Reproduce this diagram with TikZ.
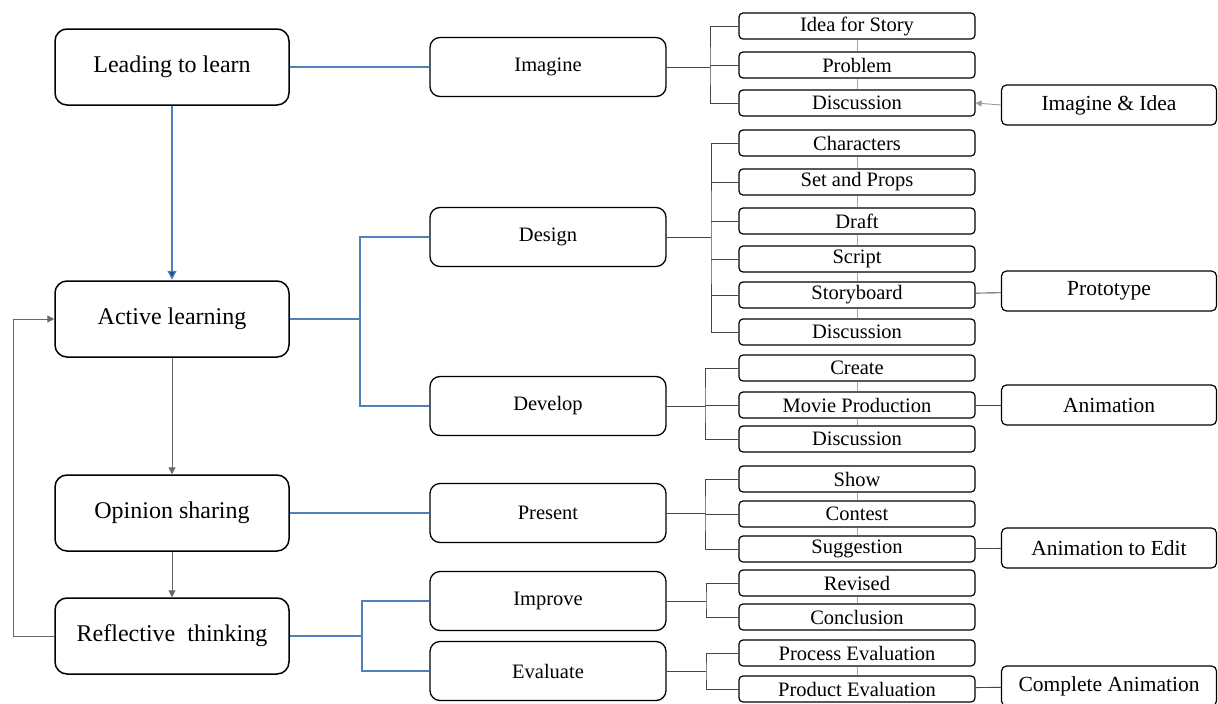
\documentclass[tikz,border=0pt]{standalone}
\usepackage{fontspec}
\setmainfont{Liberation Serif}
\usepackage{tikz}
\usetikzlibrary{arrows.meta, positioning}

\definecolor{linkblue}{RGB}{79,129,189}
\definecolor{tipblue}{RGB}{31,73,125}
\definecolor{flowgrey}{RGB}{105,105,105}
\definecolor{treegrey}{RGB}{70,70,70}

\tikzset{
  mainbox/.style={draw, rounded corners=12pt, line width=1.5pt, minimum width=234pt, minimum height=76pt, inner sep=0pt, font=\fontsize{24}{27}\selectfont},
  stagebox/.style={draw, rounded corners=10pt, line width=1.3pt, minimum width=236pt, minimum height=59pt, inner sep=0pt, font=\fontsize{20.5}{24}\selectfont},
  taskbox/.style={draw, rounded corners=4pt, line width=1.2pt, minimum width=236pt, minimum height=26pt, inner sep=0pt, font=\fontsize{20.5}{22}\selectfont},
  outbox/.style={draw, rounded corners=5pt, line width=1.2pt, minimum width=215pt, minimum height=40pt, inner sep=0pt, font=\fontsize{21.5}{24}\selectfont},
  blueline/.style={draw=linkblue, line width=1.3pt},
  treeline/.style={draw=treegrey, line width=0.9pt},
  faintline/.style={draw=black!35, line width=0.7pt}
}

\begin{document}
\begin{tikzpicture}[x=1pt, y=-1pt]
  \useasboundingbox (0,0) rectangle (1218,704);

  % phases
  \node[mainbox] (lead)    at (172,67)  {Leading to learn};
  \node[mainbox] (active)  at (172,319) {Active learning};
  \node[mainbox] (opinion) at (172,513) {Opinion sharing};
  \node[mainbox] (reflect) at (172,636) {Reflective\ \ thinking};

  % stages
  \node[stagebox] (imag)  at (548,67)  {Imagine};
  \node[stagebox] (design) at (548,237) {Design};
  \node[stagebox] (devel) at (548,406) {Develop};
  \node[stagebox] (pres)  at (548,513) {Present};
  \node[stagebox] (impr)  at (548,601) {Improve};
  \node[stagebox] (evalu) at (548,671) {Evaluate};

  % tasks
  \foreach \nm/\yy/\txt in {idea/26/Idea for Story, prob/65/Problem, disc1/103/Discussion,
      char/143/Characters, setp/182/Set and Props, draft/221/Draft, script/259/Script,
      story/295/Storyboard, disc2/332/Discussion,
      create/368/Create, movie/405/Movie Production, disc3/439/Discussion,
      show/479/Show, contest/514/Contest, sugg/549/Suggestion,
      revis/583/Revised, concl/617/Conclusion,
      proc/653/Process Evaluation, prod/689/Product Evaluation}
    \node[taskbox] (\nm) at (857,\yy) {\txt};

  % outputs
  \node[outbox] (oidea)  at (1109,105) {Imagine \& Idea};
  \node[outbox] (oproto) at (1109,291) {Prototype};
  \node[outbox] (oanim)  at (1109,405) {Animation};
  \node[outbox] (oedit)  at (1109,548) {Animation to Edit};
  \node[outbox] (ofull)  at (1109,686) {Complete Animation};

  % phase flow
  \draw[draw=linkblue, line width=1.3pt, -{Triangle[length=9pt, width=9pt, fill=tipblue]}, shorten >=0.5pt] (lead) -- (active);
  \draw[flowgrey, line width=1pt, -{Triangle[length=7pt, width=7pt]}] (active) -- (opinion);
  \draw[flowgrey, line width=1pt, -{Triangle[length=7pt, width=7pt]}] (opinion) -- (reflect);
  \draw[flowgrey, line width=1pt, -{Triangle[length=7pt, width=7pt]}] (reflect.west) -- ++(-41,0) |- (active.west);

  % phase to stage
  \coordinate (jA) at (360,319);
  \coordinate (jR) at (362,636);
  \draw[blueline] (lead) -- (imag);
  \draw[blueline] (active) -- (jA);
  \draw[blueline] (design.west) -| (jA) |- (devel.west);
  \draw[blueline] (opinion) -- (pres);
  \draw[blueline] (reflect) -- (jR);
  \draw[blueline] (impr.west) -| (jR) |- (evalu.west);

  % stage to tasks
  \coordinate (bI) at (710,67);
  \coordinate (bD) at (711,237);
  \coordinate (bV) at (705,406);
  \coordinate (bP) at (705,513);
  \coordinate (bM) at (706,601);
  \coordinate (bE) at (706,671);
  \draw[treeline] (imag) -- (bI);
  \draw[treeline] (idea.west) -| (bI) |- (disc1.west);
  \draw[treeline] (prob.west) -- (prob.west -| bI);
  \draw[treeline] (design) -- (bD);
  \draw[treeline] (char.west) -| (bD) |- (disc2.west);
  \foreach \nm in {setp,draft,script,story}
    \draw[treeline] (\nm.west) -- (\nm.west -| bD);
  \draw[treeline] (devel) -- (bV);
  \draw[treeline] (create.west) -| (bV) |- (disc3.west);
  \draw[treeline] (movie.west) -- (movie.west -| bV);
  \draw[treeline] (pres) -- (bP);
  \draw[treeline] (show.west) -| (bP) |- (sugg.west);
  \draw[treeline] (contest.west) -- (contest.west -| bP);
  \draw[treeline] (impr) -- (bM);
  \draw[treeline] (revis.west) -| (bM) |- (concl.west);
  \draw[treeline] (evalu) -- (bE);
  \draw[treeline] (proc.west) -| (bE) |- (prod.west);

  % links between tasks
  \foreach \a/\b in {idea/prob, prob/disc1, char/setp, setp/draft, draft/script, script/story,
      story/disc2, create/movie, movie/disc3, show/contest, contest/sugg, revis/concl, proc/prod}
    \draw[faintline] (\a.south) -- (\b.north);

  % tasks to outputs
  \draw[black!40, line width=0.9pt, -{Triangle[length=6pt, width=6pt]}] (oidea.west) -- (disc1.east);
  \draw[treeline] (story) -- (oproto);
  \draw[treeline] (movie) -- (oanim);
  \draw[treeline] (sugg) -- (oedit);
  \draw[treeline] (prod) -- (ofull);
\end{tikzpicture}
\end{document}
